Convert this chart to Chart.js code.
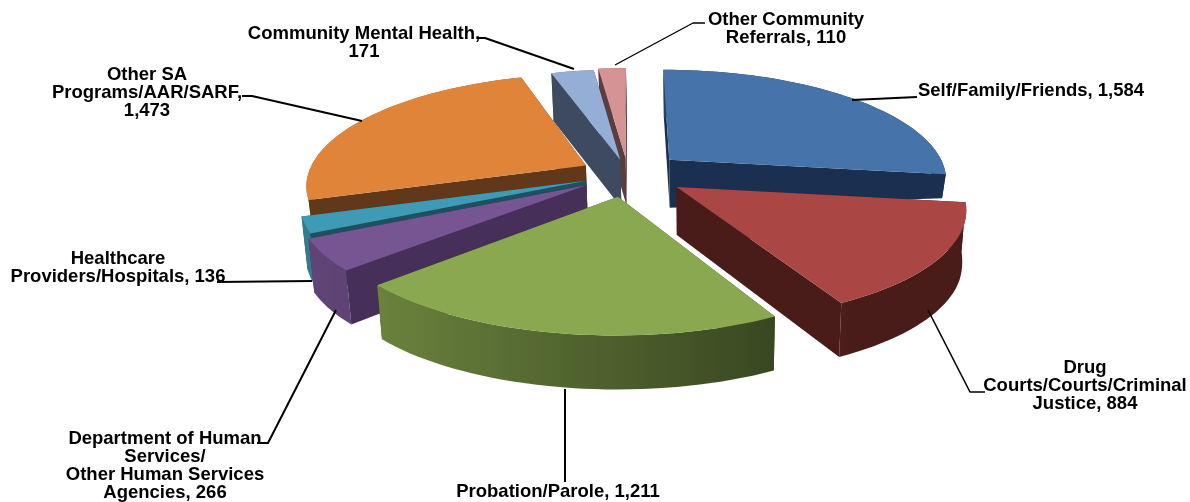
<!DOCTYPE html>
<html>
<head>
<meta charset="utf-8">
<style>
  html, body { margin: 0; background: #fff; }
  canvas { display: block; }
</style>
<script src="https://cdn.jsdelivr.net/npm/chart.js@4/dist/chart.umd.min.js"></script>
</head>
<body>
<canvas id="referrals" width="1190" height="502"></canvas>
<script>
const categories = [
    'Self/Family/Friends',
    'Drug Courts/Courts/Criminal Justice',
    'Probation/Parole',
    'Department of Human Services/Other Human Services Agencies',
    'Healthcare Providers/Hospitals',
    'Other SA Programs/AAR/SARF',
    'Community Mental Health',
    'Other Community Referrals',
];
const referrals = [1584, 884, 1211, 266, 136, 1473, 171, 110];
const explode = [56, 58, 58, 50, 45, 48, 38, 42];

const topColors = ['#4674aa', '#aa4644', '#8aa84f', '#775592', '#3f9ab5', '#e0843a', '#94aed6', '#d59393'];
const sideColors = ['#1b3050', '#4a1c19', '#364620', '#46305a', '#1d5060', '#61381a', '#3d4a5f', '#5a3d3e'];
// back slices first, so the front ones paint over them
const paintOrder = [0, 7, 6, 5, 4, 3, 1, 2];

const labelLines = [
    { x: 1031, y: 91, lines: ['Self/Family/Friends, 1,584'] },
    { x: 1085, y: 368, lines: ['Drug', 'Courts/Courts/Criminal', 'Justice, 884'] },
    { x: 558, y: 492, lines: ['Probation/Parole, 1,211'] },
    { x: 165, y: 439, lines: ['Department of Human', 'Services/', 'Other Human Services', 'Agencies, 266'] },
    { x: 118, y: 259, lines: ['Healthcare', 'Providers/Hospitals, 136'] },
    { x: 147, y: 75, lines: ['Other SA', 'Programs/AAR/SARF,', '1,473'] },
    { x: 364, y: 34, lines: ['Community Mental Health,', '171'] },
    { x: 786, y: 20, lines: ['Other Community', 'Referrals, 110'] },
];
const leaders = [
    { w: 2, pts: [[852, 100], [917, 97]] },
    { w: 1.6, pts: [[928, 310], [970, 392], [985, 392]] },
    { w: 2, pts: [[565, 389], [565, 482]] },
    { w: 2, pts: [[336, 310], [268, 443], [257, 443]] },
    { w: 2, pts: [[312, 281], [217, 282]] },
    { w: 2, pts: [[362, 121], [252, 96], [242, 96]] },
    { w: 2, pts: [[574, 69], [485, 38], [478, 38]] },
    { w: 1.4, pts: [[615, 65], [693, 23], [705, 23]] },
];

const TILT_FRONT = 0.383;
const TILT_BACK = 0.395;
const PERSPECTIVE = 0.17;

function hexToRgb(hex) {
    const n = parseInt(hex.slice(1), 16);
    return [(n >> 16) & 255, (n >> 8) & 255, n & 255];
}

function mix(a, b, t) {
    const cb = hexToRgb(b);
    const c = hexToRgb(a).map((v, i) => Math.round(v + (cb[i] - v) * t));
    return `rgb(${c[0]},${c[1]},${c[2]})`;
}

function smooth(a, b, v) {
    const t = Math.min(Math.max((v - a) / (b - a), 0), 1);
    return t * t * (3 - 2 * t);
}

// Lays a point of the flat pie on the tilted plate
function project(arc, px, py) {
    const r = arc.outerRadius;
    const u = px / r;
    const v = py / r;
    const s = 1 / (1 - PERSPECTIVE * v);
    const tilt = v < 0 ? TILT_BACK : TILT_FRONT;
    const top = { x: arc.x + px * s, y: arc.y + r * tilt * v * s };
    // the wall looks thin at the far left and right, thick in the middle and front
    const depth = 48 + 6 * smooth(0.1, 0.5, v) - 24 * smooth(0.6, 1, Math.abs(u)) * (1 - smooth(0, 0.3, v));
    const bottom = { x: top.x + (arc.x + 70 - top.x) * 0.015, y: top.y + depth };
    return { top, bottom };
}

function fillPoly(ctx, pts, color) {
    ctx.beginPath();
    pts.forEach((p, i) => (i ? ctx.lineTo(p.x, p.y) : ctx.moveTo(p.x, p.y)));
    ctx.closePath();
    ctx.fillStyle = color;
    ctx.fill();
}

function rimGradient(ctx, rim, index) {
    const darkHex = sideColors[index];
    const lit = hexToRgb(topColors[index]).map((v) => Math.round(v * 0.8));
    const litHex = '#' + lit.map((v) => v.toString(16).padStart(2, '0')).join('');
    const sorted = [...rim].sort((a, b) => a.top.x - b.top.x);
    const x0 = sorted[0].top.x;
    const x1 = sorted[sorted.length - 1].top.x;
    const grad = ctx.createLinearGradient(x0, 0, x1, 0);
    sorted.forEach((p) => {
        // clock position: lit from the left, dark towards the right
        const shade = Math.min(Math.max((Math.cos(p.a) + 0.8) / 1.3, 0), 1);
        grad.addColorStop((p.top.x - x0) / (x1 - x0), mix(litHex, darkHex, shade));
    });
    return grad;
}

function drawSlice(ctx, arc, index) {
    const offset = explode[index];
    const mid = (arc.startAngle + arc.endAngle) / 2;
    const ox = Math.cos(mid) * offset;
    const oy = Math.sin(mid) * offset;
    const r = arc.outerRadius;

    const apex = project(arc, ox, oy);
    const rim = [];
    const steps = Math.max(2, Math.ceil((arc.endAngle - arc.startAngle) / (Math.PI / 90)));
    for (let i = 0; i <= steps; i++) {
        const a = arc.startAngle + ((arc.endAngle - arc.startAngle) * i) / steps;
        rim.push({ a, ...project(arc, ox + Math.cos(a) * r, oy + Math.sin(a) * r) });
    }

    const dark = sideColors[index];
    const first = rim[0];
    const last = rim[steps];
    const startFace = [apex.top, first.top, first.bottom, apex.bottom];
    const endFace = [apex.top, last.top, last.bottom, apex.bottom];
    // a cut face that turns towards the viewer goes over the rim, the other one under it
    const startFront = Math.sin(first.a - Math.PI / 2) > 0;
    const endFront = Math.sin(last.a + Math.PI / 2) > 0;

    if (!startFront) fillPoly(ctx, startFace, dark);
    if (!endFront) fillPoly(ctx, endFace, dark);
    fillPoly(ctx, [...rim.map((p) => p.top), ...[...rim].reverse().map((p) => p.bottom)], rimGradient(ctx, rim, index));
    if (startFront) fillPoly(ctx, startFace, dark);
    if (endFront) fillPoly(ctx, endFace, dark);

    fillPoly(ctx, [apex.top, ...rim.map((p) => p.top)], topColors[index]);
}

const tiltedPie = {
    id: 'tiltedPie',
    beforeDatasetsDraw(chart) {
        const ctx = chart.ctx;
        const arcs = chart.getDatasetMeta(0).data;
        ctx.save();
        paintOrder.forEach((i) => drawSlice(ctx, arcs[i], i));

        ctx.strokeStyle = '#000';
        ctx.lineJoin = 'round';
        leaders.forEach((l) => {
            ctx.lineWidth = l.w;
            ctx.beginPath();
            l.pts.forEach((p, i) => (i ? ctx.lineTo(p[0], p[1]) : ctx.moveTo(p[0], p[1])));
            ctx.stroke();
        });

        ctx.fillStyle = '#000';
        ctx.font = 'bold 18.5px "Liberation Sans", Arial, sans-serif';
        ctx.textAlign = 'center';
        ctx.textBaseline = 'middle';
        labelLines.forEach((l) => {
            l.lines.forEach((line, i) => ctx.fillText(line, l.x, l.y + i * 18));
        });
        ctx.restore();
        return false;
    },
};

new Chart(document.getElementById('referrals'), {
    type: 'pie',
    data: {
        labels: categories,
        datasets: [{ data: referrals, backgroundColor: topColors, offset: explode, borderWidth: 0 }],
    },
    options: {
        responsive: false,
        animation: false,
        radius: 278,
        layout: { padding: { left: 66, bottom: 154 } },
        plugins: { legend: { display: false }, tooltip: { enabled: false } },
    },
    plugins: [tiltedPie],
});
</script>
</body>
</html>
